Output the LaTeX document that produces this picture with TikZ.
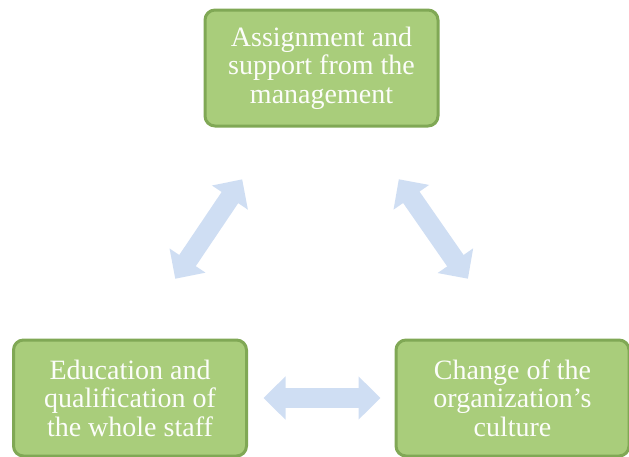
\documentclass[tikz,border=0pt]{standalone}
\usepackage{fontspec}
\setmainfont{Liberation Serif}
\usepackage{xcolor}
\usetikzlibrary{arrows.meta, calc}

\definecolor{boxgreen}{HTML}{A9CD7B}
\definecolor{boxborder}{HTML}{80A855}
\definecolor{arrowblue}{HTML}{CFDEF3}

\begin{document}
\begin{tikzpicture}[x=1pt, y=-1pt]
            \tikzstyle{Box} = [draw=boxborder, fill=boxgreen, line width=3pt, rounded corners=10pt, minimum width=233pt, minimum height=116pt, inner sep=0pt, align=center, text=white!96!boxgreen, font=\fontsize{28}{28.5}\selectfont]
            \tikzstyle{Link} = [color=arrowblue, line width=20pt, {Triangle[width=42pt,length=22pt]}-{Triangle[width=42pt,length=22pt]}]
            \useasboundingbox (0,0) rectangle (629,456);
            \node[Box] (management) at (321.5, 68) {Assignment and\\support from the\\management};
            \node[Box] (staff) at (130, 398) {Education and\\qualification of\\the whole staff};
            \node[Box] (culture) at (512.5, 398) {Change of the\\organization’s\\culture};
            \draw[Link, shorten <=72pt, shorten >=62.5pt] ($(staff.north)+(5,0)$) -- ($(management.south west)!0.312!(management.south east)$);
            \draw[Link, shorten <=63pt, shorten >=72.8pt] ($(management.south west)!0.675!(management.south east)$) -- ($(culture.north)+(-3,0)$);
            \draw[Link, shorten <=15.5pt, shorten >=14pt] (staff.east) -- (culture.west);
        \end{tikzpicture}
\end{document}
